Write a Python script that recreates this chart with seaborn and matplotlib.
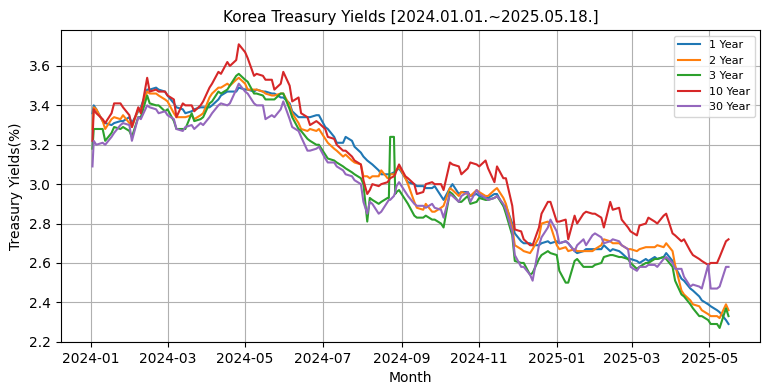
import numpy as np
import pandas as pd
import matplotlib
matplotlib.use('Agg')
import matplotlib.pyplot as plt
import matplotlib.dates as mdates
import seaborn as sns

#sample dates (wed + fri, a few extra days around the 3Y spike in august)
dates = [
    "2024-01-02", "2024-01-03", "2024-01-05", "2024-01-10", "2024-01-12", "2024-01-17", "2024-01-19", "2024-01-24", "2024-01-26", "2024-01-31",
    "2024-02-02", "2024-02-07", "2024-02-09", "2024-02-14", "2024-02-16", "2024-02-21", "2024-02-23", "2024-02-28",
    "2024-03-01", "2024-03-06", "2024-03-08", "2024-03-13", "2024-03-15", "2024-03-20", "2024-03-22", "2024-03-27", "2024-03-29",
    "2024-04-03", "2024-04-05", "2024-04-10", "2024-04-12", "2024-04-17", "2024-04-19", "2024-04-24", "2024-04-26",
    "2024-05-01", "2024-05-03", "2024-05-08", "2024-05-10", "2024-05-15", "2024-05-17", "2024-05-22", "2024-05-24", "2024-05-29", "2024-05-31",
    "2024-06-05", "2024-06-07", "2024-06-12", "2024-06-14", "2024-06-19", "2024-06-21", "2024-06-26", "2024-06-28",
    "2024-07-03", "2024-07-05", "2024-07-10", "2024-07-12", "2024-07-17", "2024-07-19", "2024-07-24", "2024-07-26", "2024-07-31",
    "2024-08-02", "2024-08-05", "2024-08-07", "2024-08-09", "2024-08-14", "2024-08-16", "2024-08-21", "2024-08-22", "2024-08-23", "2024-08-26", "2024-08-27", "2024-08-28", "2024-08-30",
    "2024-09-04", "2024-09-06", "2024-09-11", "2024-09-13", "2024-09-18", "2024-09-20", "2024-09-25", "2024-09-27",
    "2024-10-02", "2024-10-04", "2024-10-09", "2024-10-11", "2024-10-16", "2024-10-18", "2024-10-23", "2024-10-25", "2024-10-30",
    "2024-11-01", "2024-11-06", "2024-11-08", "2024-11-13", "2024-11-15", "2024-11-20", "2024-11-22", "2024-11-27", "2024-11-29",
    "2024-12-04", "2024-12-06", "2024-12-11", "2024-12-13", "2024-12-18", "2024-12-20", "2024-12-25", "2024-12-27",
    "2025-01-01", "2025-01-03", "2025-01-08", "2025-01-10", "2025-01-15", "2025-01-17", "2025-01-22", "2025-01-24", "2025-01-29", "2025-01-31",
    "2025-02-05", "2025-02-07", "2025-02-12", "2025-02-14", "2025-02-19", "2025-02-21", "2025-02-26", "2025-02-28",
    "2025-03-05", "2025-03-07", "2025-03-12", "2025-03-14", "2025-03-19", "2025-03-21", "2025-03-26", "2025-03-28",
    "2025-04-02", "2025-04-04", "2025-04-09", "2025-04-11", "2025-04-16", "2025-04-18", "2025-04-23", "2025-04-25", "2025-04-30",
    "2025-05-02", "2025-05-07", "2025-05-09", "2025-05-14", "2025-05-16"]

y1 = [3.36, 3.40, 3.38, 3.32, 3.31, 3.30, 3.31, 3.32, 3.32, 3.34,
      3.31, 3.37, 3.39, 3.48, 3.48, 3.49, 3.48, 3.47,
      3.45, 3.41, 3.39, 3.38, 3.36, 3.37, 3.38, 3.39, 3.39,
      3.39, 3.40, 3.43, 3.45, 3.47, 3.47, 3.47, 3.49,
      3.48, 3.48, 3.47, 3.48, 3.47, 3.47, 3.46, 3.46, 3.44, 3.44,
      3.41, 3.37, 3.34, 3.34, 3.34, 3.34, 3.35, 3.35,
      3.29, 3.28, 3.24, 3.21, 3.21, 3.24, 3.22, 3.19, 3.16,
      3.14, 3.12, 3.11, 3.10, 3.07, 3.05, 3.05, 3.05, 3.05, 3.06, 3.06, 3.07, 3.08,
      3.03, 3.01, 3.00, 2.99, 2.99, 2.98, 2.98, 2.99,
      2.94, 2.92, 2.98, 3.00, 2.95, 2.96, 2.96, 2.94, 2.95,
      2.94, 2.93, 2.93, 2.95, 2.95, 2.89, 2.89, 2.80, 2.75,
      2.71, 2.70, 2.70, 2.69, 2.69, 2.70, 2.71, 2.70,
      2.71, 2.70, 2.71, 2.70, 2.66, 2.65, 2.66, 2.67, 2.67, 2.67,
      2.67, 2.69, 2.66, 2.67, 2.66, 2.65, 2.62, 2.62,
      2.61, 2.60, 2.62, 2.61, 2.63, 2.62, 2.63, 2.65,
      2.61, 2.58, 2.52, 2.51, 2.47, 2.46, 2.43, 2.41, 2.39,
      2.38, 2.36, 2.35, 2.31, 2.29]
y2 = [3.28, 3.39, 3.38, 3.32, 3.28, 3.33, 3.34, 3.33, 3.35, 3.31,
      3.29, 3.38, 3.38, 3.47, 3.46, 3.46, 3.45, 3.43,
      3.42, 3.36, 3.34, 3.34, 3.34, 3.35, 3.33, 3.35, 3.36,
      3.44, 3.46, 3.49, 3.49, 3.51, 3.50, 3.53, 3.54,
      3.51, 3.48, 3.48, 3.48, 3.47, 3.46, 3.45, 3.45, 3.46, 3.46,
      3.40, 3.36, 3.31, 3.28, 3.27, 3.28, 3.27, 3.28,
      3.23, 3.21, 3.18, 3.17, 3.14, 3.15, 3.12, 3.11, 3.10,
      3.04, 3.04, 3.03, 3.04, 3.04, 3.07, 3.03, 3.03, 3.05, 3.05, 3.06, 3.07, 3.09,
      3.03, 3.00, 2.91, 2.88, 2.87, 2.90, 2.86, 2.86,
      2.88, 2.89, 2.98, 2.97, 2.94, 2.96, 2.95, 2.94, 2.97,
      2.96, 2.94, 2.94, 2.97, 2.98, 2.93, 2.90, 2.78, 2.69,
      2.67, 2.66, 2.65, 2.67, 2.73, 2.80, 2.81, 2.79,
      2.69, 2.67, 2.68, 2.66, 2.67, 2.66, 2.66, 2.66, 2.66, 2.67,
      2.69, 2.72, 2.71, 2.70, 2.70, 2.69, 2.67, 2.67,
      2.66, 2.67, 2.68, 2.68, 2.68, 2.69, 2.68, 2.70,
      2.66, 2.59, 2.46, 2.44, 2.41, 2.39, 2.38, 2.36, 2.34,
      2.33, 2.33, 2.32, 2.39, 2.36]
y3 = [3.18, 3.28, 3.28, 3.28, 3.22, 3.26, 3.29, 3.28, 3.29, 3.27,
      3.24, 3.34, 3.34, 3.45, 3.41, 3.40, 3.40, 3.37,
      3.38, 3.32, 3.28, 3.28, 3.28, 3.36, 3.32, 3.33, 3.34,
      3.41, 3.42, 3.47, 3.46, 3.48, 3.50, 3.55, 3.56,
      3.53, 3.52, 3.46, 3.46, 3.45, 3.43, 3.43, 3.43, 3.46, 3.46,
      3.38, 3.34, 3.28, 3.27, 3.23, 3.22, 3.20, 3.20,
      3.15, 3.13, 3.12, 3.11, 3.09, 3.08, 3.06, 3.05, 3.03,
      3.00, 2.81, 2.93, 2.92, 2.90, 2.91, 2.93, 2.93, 3.24, 3.24, 2.95, 2.96, 2.97,
      2.92, 2.90, 2.84, 2.83, 2.83, 2.84, 2.82, 2.82,
      2.80, 2.78, 2.96, 2.95, 2.91, 2.91, 2.94, 2.90, 2.91,
      2.93, 2.92, 2.92, 2.93, 2.94, 2.89, 2.85, 2.74, 2.61,
      2.60, 2.60, 2.54, 2.55, 2.62, 2.64, 2.66, 2.65,
      2.64, 2.56, 2.50, 2.50, 2.61, 2.62, 2.58, 2.58, 2.58, 2.59,
      2.60, 2.63, 2.64, 2.64, 2.63, 2.63, 2.62, 2.60,
      2.57, 2.58, 2.60, 2.60, 2.62, 2.62, 2.63, 2.62,
      2.58, 2.51, 2.44, 2.43, 2.39, 2.37, 2.33, 2.33, 2.31,
      2.29, 2.29, 2.27, 2.37, 2.33]
y10 = [3.22, 3.38, 3.36, 3.33, 3.31, 3.36, 3.41, 3.41, 3.39, 3.35,
       3.29, 3.39, 3.36, 3.54, 3.47, 3.48, 3.47, 3.47,
       3.45, 3.43, 3.34, 3.41, 3.40, 3.40, 3.37, 3.40, 3.42,
       3.49, 3.51, 3.57, 3.56, 3.62, 3.60, 3.63, 3.71,
       3.67, 3.64, 3.55, 3.56, 3.55, 3.53, 3.53, 3.48, 3.51, 3.57,
       3.50, 3.42, 3.44, 3.36, 3.34, 3.30, 3.32, 3.31,
       3.28, 3.24, 3.23, 3.20, 3.17, 3.17, 3.14, 3.12, 3.10,
       3.02, 2.95, 2.97, 3.00, 2.99, 3.00, 3.01, 3.02, 3.03, 3.04, 3.05, 3.07, 3.10,
       3.04, 3.03, 3.00, 2.95, 2.96, 3.00, 3.01, 3.00,
       3.00, 2.97, 3.11, 3.10, 3.09, 3.05, 3.08, 3.11, 3.10,
       3.09, 3.12, 3.08, 3.01, 3.09, 3.03, 3.03, 2.89, 2.77,
       2.76, 2.72, 2.69, 2.69, 2.78, 2.85, 2.91, 2.91,
       2.81, 2.81, 2.82, 2.72, 2.84, 2.80, 2.85, 2.86, 2.85, 2.85,
       2.83, 2.78, 2.91, 2.87, 2.88, 2.82, 2.78, 2.76,
       2.74, 2.79, 2.80, 2.83, 2.81, 2.80, 2.84, 2.85,
       2.75, 2.74, 2.71, 2.72, 2.66, 2.64, 2.62, 2.61, 2.59,
       2.60, 2.60, 2.63, 2.71, 2.72]
y30 = [3.09, 3.22, 3.20, 3.21, 3.20, 3.24, 3.26, 3.30, 3.31, 3.30,
       3.22, 3.34, 3.33, 3.40, 3.39, 3.38, 3.36, 3.37,
       3.35, 3.33, 3.28, 3.27, 3.29, 3.30, 3.28, 3.31, 3.30,
       3.34, 3.36, 3.40, 3.41, 3.40, 3.41, 3.48, 3.51,
       3.47, 3.46, 3.41, 3.40, 3.40, 3.33, 3.35, 3.34, 3.38, 3.42,
       3.33, 3.29, 3.27, 3.24, 3.17, 3.17, 3.18, 3.19,
       3.13, 3.11, 3.11, 3.09, 3.07, 3.05, 3.04, 3.02, 3.00,
       2.91, 2.85, 2.91, 2.90, 2.85, 2.86, 2.91, 2.92, 2.92, 2.94, 2.96, 2.99, 3.01,
       2.96, 2.94, 2.90, 2.89, 2.89, 2.88, 2.90, 2.88,
       2.87, 2.83, 2.95, 2.94, 2.91, 2.94, 2.96, 2.91, 2.97,
       2.95, 2.93, 2.92, 2.93, 2.94, 2.90, 2.87, 2.76, 2.64,
       2.58, 2.58, 2.54, 2.51, 2.69, 2.73, 2.78, 2.82,
       2.76, 2.70, 2.71, 2.70, 2.66, 2.69, 2.72, 2.69, 2.74, 2.75,
       2.73, 2.70, 2.71, 2.72, 2.71, 2.69, 2.67, 2.58,
       2.56, 2.58, 2.58, 2.59, 2.59, 2.58, 2.62, 2.63,
       2.60, 2.57, 2.57, 2.53, 2.48, 2.49, 2.48, 2.47, 2.59,
       2.47, 2.47, 2.48, 2.58, 2.58]

labels = ["1 Year", "2 Year", "3 Year", "10 Year", "30 Year"]
colors = ["#1f77b4", "#ff7f0e", "#2ca02c", "#d62728", "#9467bd"]

#long format for seaborn
frames = []
for lab, vals in zip(labels, [y1, y2, y3, y10, y30]):
    frames.append(pd.DataFrame({"date": pd.to_datetime(dates), "yield": vals, "term": lab}))
df = pd.concat(frames, ignore_index=True)

fig, ax = plt.subplots(figsize=(7.68, 3.91), dpi=100)
sns.lineplot(data=df, x="date", y="yield", hue="term", hue_order=labels,
             palette=colors, linewidth=1.5, ax=ax)

ax.set_title("Korea Treasury Yields [2024.01.01.~2025.05.18.]", fontsize=11)
ax.set_xlabel("Month", fontsize=10)
ax.set_ylabel("Treasury Yields(%)", fontsize=10)
ax.xaxis.set_major_locator(mdates.MonthLocator(bymonth=[1, 3, 5, 7, 9, 11]))
ax.xaxis.set_major_formatter(mdates.DateFormatter('%Y-%m'))
ax.grid(True)
ax.legend(loc="upper right", fontsize=8)

plt.subplots_adjust(left=0.079, right=0.99, top=0.923, bottom=0.125)
plt.savefig("out.png", dpi=100)
